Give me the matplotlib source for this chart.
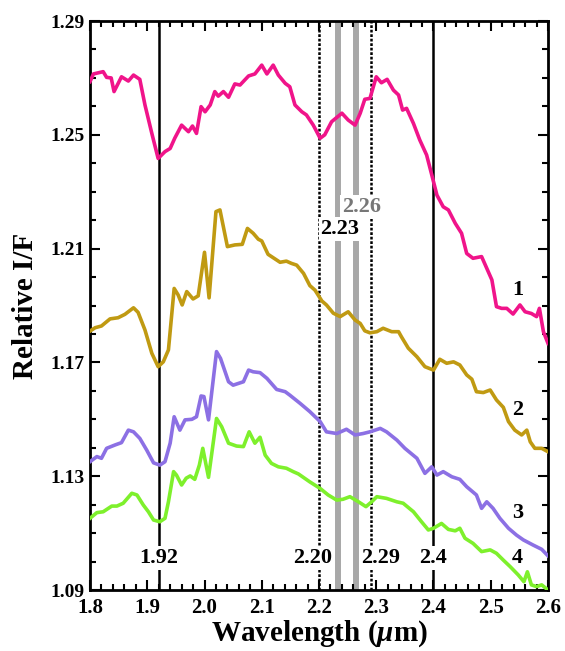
import numpy as np
import matplotlib
matplotlib.use('Agg')
import matplotlib.pyplot as plt

plt.rcParams['font.family'] = ['Liberation Serif', 'DejaVu Serif']
plt.rcParams['font.weight'] = 'bold'
plt.rcParams['mathtext.fontset'] = 'custom'
plt.rcParams['mathtext.rm'] = 'Liberation Serif:bold'
plt.rcParams['mathtext.it'] = 'Liberation Serif:italic:bold'

# spectrum 1 (pink)
wl_1 = [1.800, 1.806, 1.823, 1.829, 1.837, 1.842, 1.855, 1.867, 1.876, 1.887,
        1.896, 1.908, 1.919, 1.931, 1.940, 1.948, 1.960, 1.972, 1.979, 1.986,
        1.994, 2.001, 2.010, 2.018, 2.024, 2.033, 2.042, 2.053, 2.062, 2.077,
        2.088, 2.100, 2.109, 2.120, 2.129, 2.141, 2.149, 2.158, 2.170, 2.178,
        2.190, 2.202, 2.210, 2.222, 2.240, 2.251, 2.263, 2.272, 2.280, 2.289,
        2.300, 2.309, 2.319, 2.330, 2.339, 2.346, 2.353, 2.365, 2.376, 2.388,
        2.397, 2.406, 2.417, 2.426, 2.438, 2.449, 2.458, 2.469, 2.484, 2.493,
        2.502, 2.510, 2.519, 2.528, 2.539, 2.551, 2.560, 2.571, 2.580, 2.585,
        2.592, 2.600]
rif_1 = [1.2687, 1.2714, 1.2722, 1.2702, 1.2700, 1.2652, 1.2704, 1.2689, 1.2710, 1.2695,
         1.2605, 1.2505, 1.2417, 1.2441, 1.2452, 1.2488, 1.2534, 1.2511, 1.2531, 1.2505,
         1.2599, 1.2581, 1.2605, 1.2652, 1.2636, 1.2652, 1.2632, 1.2679, 1.2675, 1.2707,
         1.2714, 1.2745, 1.2714, 1.2745, 1.2710, 1.2681, 1.2669, 1.2605, 1.2581, 1.2570,
         1.2534, 1.2488, 1.2500, 1.2546, 1.2576, 1.2552, 1.2534, 1.2576, 1.2625, 1.2628,
         1.2704, 1.2683, 1.2695, 1.2657, 1.2640, 1.2587, 1.2593, 1.2540, 1.2482, 1.2429,
         1.2359, 1.2288, 1.2247, 1.2236, 1.2189, 1.2154, 1.2083, 1.2066, 1.2072, 1.2031,
         1.1990, 1.1896, 1.1890, 1.1890, 1.1870, 1.1902, 1.1878, 1.1872, 1.1861, 1.1890,
         1.1808, 1.1767]

# spectrum 2 (gold)
wl_2 = [1.800, 1.809, 1.820, 1.835, 1.849, 1.861, 1.876, 1.884, 1.896, 1.908,
        1.919, 1.928, 1.937, 1.947, 1.954, 1.961, 1.969, 1.980, 1.989, 2.000,
        2.008, 2.020, 2.027, 2.040, 2.053, 2.066, 2.075, 2.085, 2.094, 2.100,
        2.111, 2.120, 2.132, 2.143, 2.152, 2.161, 2.173, 2.184, 2.193, 2.205,
        2.213, 2.225, 2.237, 2.251, 2.263, 2.272, 2.280, 2.289, 2.301, 2.312,
        2.327, 2.339, 2.344, 2.356, 2.371, 2.385, 2.400, 2.411, 2.423, 2.435,
        2.446, 2.458, 2.467, 2.475, 2.487, 2.499, 2.510, 2.522, 2.531, 2.542,
        2.554, 2.563, 2.569, 2.577, 2.589, 2.600]
rif_2 = [1.1810, 1.1822, 1.1828, 1.1853, 1.1857, 1.1869, 1.1892, 1.1876, 1.1814, 1.1732,
         1.1685, 1.1702, 1.1744, 1.1960, 1.1937, 1.1902, 1.1949, 1.1923, 1.1934, 1.2087,
         1.1927, 1.2230, 1.2236, 1.2107, 1.2113, 1.2115, 1.2171, 1.2154, 1.2133, 1.2127,
         1.2080, 1.2068, 1.2052, 1.2056, 1.2048, 1.2042, 1.2013, 1.1970, 1.1954, 1.1916,
         1.1902, 1.1873, 1.1861, 1.1878, 1.1849, 1.1837, 1.1811, 1.1804, 1.1808, 1.1820,
         1.1808, 1.1808, 1.1790, 1.1750, 1.1720, 1.1685, 1.1673, 1.1711, 1.1697, 1.1702,
         1.1691, 1.1656, 1.1641, 1.1597, 1.1594, 1.1603, 1.1568, 1.1542, 1.1492, 1.1462,
         1.1445, 1.1462, 1.1421, 1.1398, 1.1398, 1.1386]

# spectrum 3 (purple)
wl_3 = [1.800, 1.812, 1.820, 1.829, 1.844, 1.855, 1.867, 1.876, 1.887, 1.899,
        1.911, 1.922, 1.931, 1.940, 1.947, 1.957, 1.966, 1.978, 1.986, 1.994,
        1.999, 2.007, 2.021, 2.028, 2.042, 2.050, 2.068, 2.077, 2.085, 2.097,
        2.109, 2.126, 2.141, 2.149, 2.167, 2.184, 2.202, 2.213, 2.231, 2.248,
        2.263, 2.277, 2.289, 2.307, 2.318, 2.336, 2.350, 2.371, 2.385, 2.397,
        2.406, 2.417, 2.432, 2.446, 2.458, 2.475, 2.484, 2.493, 2.504, 2.516,
        2.531, 2.545, 2.557, 2.574, 2.589, 2.600]
rif_3 = [1.1351, 1.1369, 1.1363, 1.1398, 1.1410, 1.1418, 1.1462, 1.1456, 1.1433, 1.1392,
         1.1347, 1.1339, 1.1351, 1.1416, 1.1509, 1.1462, 1.1498, 1.1500, 1.1509, 1.1582,
         1.1580, 1.1498, 1.1738, 1.1714, 1.1632, 1.1620, 1.1632, 1.1673, 1.1667, 1.1664,
         1.1644, 1.1605, 1.1597, 1.1585, 1.1556, 1.1527, 1.1492, 1.1456, 1.1450, 1.1465,
         1.1445, 1.1450, 1.1456, 1.1468, 1.1456, 1.1427, 1.1398, 1.1363, 1.1310, 1.1333,
         1.1304, 1.1316, 1.1298, 1.1289, 1.1263, 1.1234, 1.1187, 1.1210, 1.1187, 1.1152,
         1.1117, 1.1093, 1.1076, 1.1058, 1.1043, 1.1020]

# spectrum 4 (green)
wl_4 = [1.800, 1.812, 1.823, 1.838, 1.847, 1.858, 1.873, 1.882, 1.893, 1.902,
        1.911, 1.922, 1.931, 1.937, 1.946, 1.951, 1.960, 1.968, 1.975, 1.983,
        1.991, 1.997, 2.007, 2.021, 2.030, 2.042, 2.056, 2.068, 2.078, 2.088,
        2.097, 2.106, 2.117, 2.129, 2.143, 2.155, 2.164, 2.184, 2.202, 2.216,
        2.231, 2.242, 2.254, 2.269, 2.282, 2.292, 2.301, 2.318, 2.336, 2.347,
        2.365, 2.379, 2.391, 2.400, 2.414, 2.426, 2.438, 2.446, 2.455, 2.469,
        2.484, 2.499, 2.510, 2.522, 2.534, 2.548, 2.558, 2.564, 2.571, 2.580,
        2.589, 2.600]
rif_4 = [1.1152, 1.1172, 1.1175, 1.1195, 1.1195, 1.1205, 1.1240, 1.1234, 1.1199, 1.1175,
         1.1146, 1.1140, 1.1152, 1.1210, 1.1316, 1.1304, 1.1269, 1.1293, 1.1301, 1.1289,
         1.1339, 1.1398, 1.1296, 1.1503, 1.1474, 1.1416, 1.1406, 1.1404, 1.1456, 1.1416,
         1.1437, 1.1374, 1.1345, 1.1333, 1.1328, 1.1316, 1.1308, 1.1280, 1.1257, 1.1234,
         1.1216, 1.1219, 1.1228, 1.1210, 1.1193, 1.1210, 1.1228, 1.1222, 1.1210, 1.1205,
         1.1175, 1.1140, 1.1111, 1.1117, 1.1134, 1.1113, 1.1108, 1.1117, 1.1082, 1.1064,
         1.1035, 1.1041, 1.1029, 1.1005, 1.0982, 1.0953, 1.0929, 1.0964, 1.0918, 1.0912,
         1.0918, 1.0900]

spectra = [(wl_1, rif_1, '#f0148a', '1', 1.1955),
           (wl_2, rif_2, '#c09a12', '2', 1.1533),
           (wl_3, rif_3, '#8c70e4', '3', 1.1171),
           (wl_4, rif_4, '#7ef02c', '4', 1.1013)]

solid_bands = [1.92, 2.40]
dotted_bands = [2.20, 2.29]
grey_bands = [2.233, 2.264]

fig = plt.figure(figsize=(5.65, 6.51), dpi=100)
ax = fig.add_axes([0.1593, 0.0937, 0.8106, 0.874])

for x in solid_bands:
    ax.axvline(x, color='black', lw=1.8, zorder=1)
for x in dotted_bands:
    ax.axvline(x, color='black', lw=1.8, ls=(0, (1.1, 0.7)), zorder=1)
for x in grey_bands:
    ax.axvline(x, color='#a8a8a8', lw=4.3, zorder=1)

for wl, rif, col, name, ylab in spectra:
    ax.plot(wl, rif, color=col, lw=2.6, zorder=3)
    ax.text(2.547, ylab, name, fontsize=16, fontweight='bold',
            ha='center', va='center', zorder=4)

box = dict(fc='white', ec='none', pad=1.5)
ax.text(1.92, 1.1012, '1.92', fontsize=16, fontweight='bold', ha='center',
        va='center', bbox=box, zorder=2)
ax.text(2.1895, 1.1012, '2.20', fontsize=16, fontweight='bold', ha='center',
        va='center', bbox=box, zorder=2)
ax.text(2.3083, 1.1012, '2.29', fontsize=16, fontweight='bold', ha='center',
        va='center', bbox=box, zorder=2)
ax.text(2.399, 1.1012, '2.4', fontsize=16, fontweight='bold', ha='center',
        va='center', bbox=box, zorder=2)
ax.text(2.2367, 1.2169, '2.23', fontsize=16, fontweight='bold', ha='center',
        va='center', bbox=box, zorder=2)
ax.text(2.275, 1.2246, '2.26', fontsize=16, fontweight='bold', ha='center',
        va='center', color='#777777', bbox=box, zorder=2)

ax.set_xlim(1.8, 2.6)
ax.set_ylim(1.09, 1.29)
ax.set_xticks(np.arange(1.8, 2.61, 0.1))
ax.set_xticks(np.arange(1.8, 2.61, 0.02), minor=True)
ax.set_yticks(np.arange(1.09, 1.291, 0.04))
ax.set_yticks(np.arange(1.09, 1.291, 0.01), minor=True)
ax.xaxis.set_major_formatter(plt.FormatStrFormatter('%.1f'))
ax.yaxis.set_major_formatter(plt.FormatStrFormatter('%.2f'))

ax.tick_params(which='both', direction='in', top=True, right=True, width=1.5)
ax.tick_params(which='major', length=7)
ax.tick_params(which='minor', length=4.5)
ax.tick_params(axis='x', labelsize=15, pad=6)
ax.tick_params(axis='y', labelsize=14, pad=4)
for lab in ax.get_xticklabels() + ax.get_yticklabels():
    lab.set_fontweight('bold')
for sp in ax.spines.values():
    sp.set_linewidth(2)

ax.set_xlabel('Wavelength ($\\mu$m)', fontsize=21, fontweight='bold', labelpad=0)
ax.set_ylabel('Relative I/F', fontsize=21, fontweight='bold', labelpad=8)

fig.savefig('out.png', dpi=100)
